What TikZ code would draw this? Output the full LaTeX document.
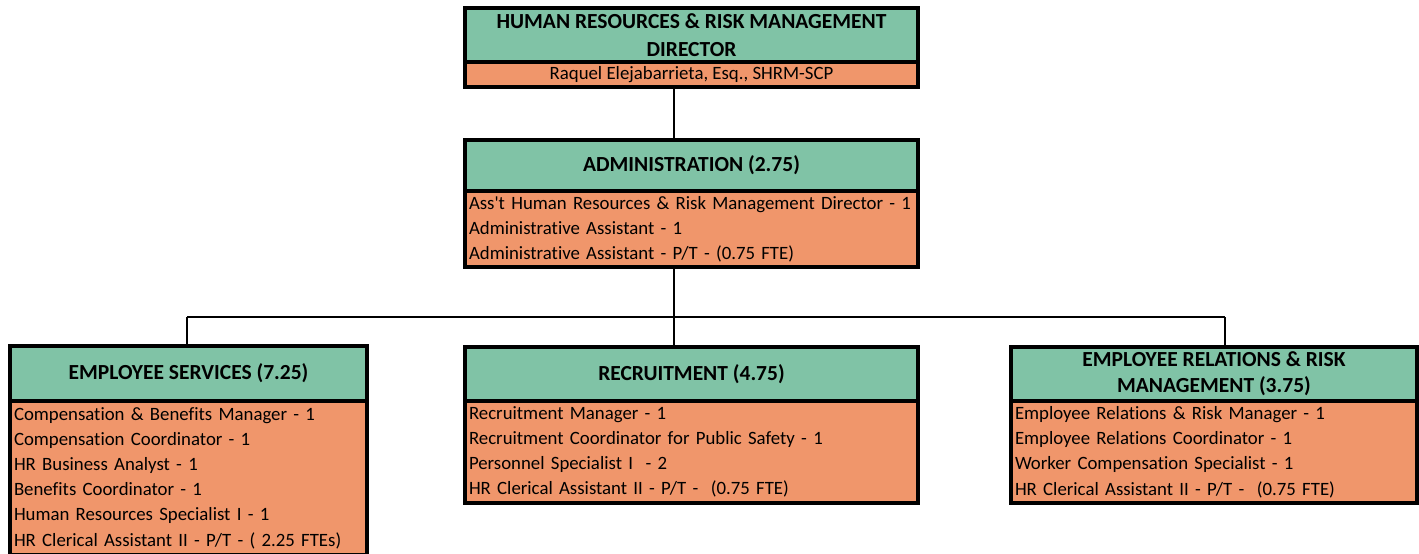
\documentclass[tikz,border=0pt]{standalone}
\usepackage{fontspec}
\setmainfont{Carlito}[Ligatures=NoCommon]
\definecolor{hgreen}{RGB}{128,195,166}
\definecolor{bsalmon}{RGB}{240,150,107}
\begin{document}
\begin{tikzpicture}[x=1pt,y=-1pt,
  hdr/.style={draw=black, line width=4pt, fill=hgreen, font=\fontsize{21.5}{27}\selectfont\bfseries, align=center, inner sep=0pt, anchor=north west},
  bdy/.style={draw=black, line width=4pt, fill=bsalmon, font=\fontsize{18.8}{25.2}\selectfont, align=left, inner xsep=4pt, inner ysep=0pt, anchor=north west},
  conn/.style={draw=black, line width=2pt}]
\useasboundingbox (0,0) rectangle (1419,554);
\fill[white] (0,0) rectangle (1419,554);
% coordinates of the bus
\coordinate (bus) at (674,317);
\coordinate (busL) at (187,317);
\coordinate (busR) at (1225,317);
% top box
\node[hdr, font=\fontsize{21.5}{28}\selectfont\bfseries, minimum width=453pt, minimum height=54pt] (toph) at (463,6) {HUMAN RESOURCES \& RISK MANAGEMENT\\DIRECTOR};
\node[bdy, align=center, minimum width=453pt, minimum height=25pt] (topb) at (463,60) {Raquel Elejabarrieta, Esq., SHRM-SCP};
% administration
\node[hdr, minimum width=453pt, minimum height=51pt] (admh) at (463,138) {ADMINISTRATION (2.75)};
\node[bdy, text width=445pt, minimum width=453pt, minimum height=76pt] (admb) at (463,189) {\mbox{Ass\textquotesingle t Human Resources \& Risk Management Director - 1}\\Administrative Assistant - 1\\Administrative Assistant - P/T - (0.75 FTE)};
% employee services
\node[hdr, minimum width=357pt, minimum height=55pt] (esh) at (8,344) {EMPLOYEE SERVICES (7.25)};
\node[bdy, text width=349pt, minimum width=357pt, minimum height=154pt] (esb) at (8,399) {Compensation \& Benefits Manager - 1\\Compensation Coordinator - 1\\HR Business Analyst - 1\\Benefits Coordinator - 1\\Human Resources Specialist I - 1\\HR Clerical Assistant II - P/T - ( 2.25 FTEs)};
% recruitment
\node[hdr, minimum width=453pt, minimum height=54pt] (rech) at (463,345) {RECRUITMENT (4.75)};
\node[bdy, text width=445pt, minimum width=453pt, minimum height=102pt] (recb) at (463,399) {Recruitment Manager - 1\\Recruitment Coordinator for Public Safety - 1\\Personnel Specialist I \ - 2\\HR Clerical Assistant II - P/T - \ (0.75 FTE)};
% employee relations
\node[hdr, font=\fontsize{21.5}{26}\selectfont\bfseries, minimum width=406pt, minimum height=54pt] (erh) at (1009,345) {EMPLOYEE RELATIONS \& RISK\\MANAGEMENT (3.75)};
\node[bdy, text width=398pt, minimum width=406pt, minimum height=102pt] (erb) at (1009,399) {Employee Relations \& Risk Manager - 1\\Employee Relations Coordinator - 1\\Worker Compensation Specialist - 1\\HR Clerical Assistant II - P/T - \ (0.75 FTE)};
% connectors
\draw[conn] (topb.south -| bus) -- (admh.north -| bus);
\draw[conn] (admb.south -| bus) -- (bus);
\draw[conn] (busL) -- (busR);
\draw[conn] (busL) -- (esh.north -| busL);
\draw[conn] (bus) -- (rech.north -| bus);
\draw[conn] (busR) -- (erh.north -| busR);
\end{tikzpicture}
\end{document}
